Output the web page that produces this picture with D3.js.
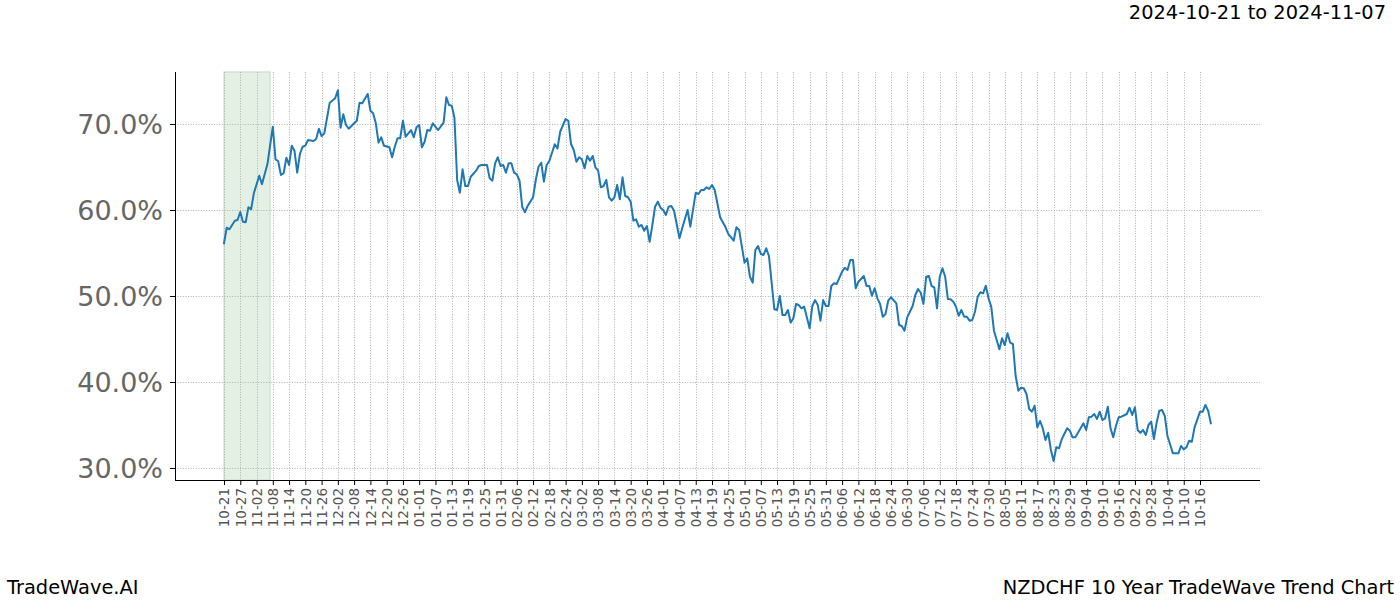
<!DOCTYPE html>
<html><head><meta charset="utf-8">
<script src="https://cdn.jsdelivr.net/npm/d3@7"></script>
<style>body{margin:0;background:#fff}svg{display:block}text{font-family:"DejaVu Sans",sans-serif}</style>
</head><body><svg id="c" width="1400" height="600"></svg>
<script>
const dates=["2024-10-21","2024-10-22","2024-10-23","2024-10-25","2024-10-26","2024-10-27","2024-10-28","2024-10-29","2024-10-30","2024-10-31",
"2024-11-01","2024-11-03","2024-11-04","2024-11-06","2024-11-08","2024-11-09","2024-11-10","2024-11-11","2024-11-12","2024-11-13",
"2024-11-14","2024-11-15","2024-11-16","2024-11-17","2024-11-18","2024-11-19","2024-11-20","2024-11-21","2024-11-23","2024-11-24",
"2024-11-25","2024-11-26","2024-11-27","2024-11-29","2024-12-01","2024-12-02","2024-12-03","2024-12-04","2024-12-05","2024-12-06",
"2024-12-08","2024-12-09","2024-12-10","2024-12-11","2024-12-13","2024-12-14","2024-12-15","2024-12-16","2024-12-17","2024-12-18",
"2024-12-19","2024-12-21","2024-12-22","2024-12-23","2024-12-24","2024-12-25","2024-12-26","2024-12-27","2024-12-29","2024-12-30",
"2024-12-31","2025-01-01","2025-01-02","2025-01-03","2025-01-04","2025-01-05","2025-01-06","2025-01-08","2025-01-10","2025-01-11",
"2025-01-12","2025-01-13","2025-01-14","2025-01-15","2025-01-16","2025-01-17","2025-01-18","2025-01-19","2025-01-20","2025-01-22",
"2025-01-23","2025-01-24","2025-01-26","2025-01-27","2025-01-28","2025-01-29","2025-01-30","2025-01-31","2025-02-01","2025-02-02",
"2025-02-03","2025-02-04","2025-02-05","2025-02-06","2025-02-07","2025-02-08","2025-02-09","2025-02-10","2025-02-12","2025-02-13",
"2025-02-14","2025-02-15","2025-02-16","2025-02-17","2025-02-18","2025-02-20","2025-02-21","2025-02-22","2025-02-24","2025-02-25",
"2025-02-26","2025-02-27","2025-02-28","2025-03-01","2025-03-02","2025-03-03","2025-03-04","2025-03-05","2025-03-06","2025-03-07",
"2025-03-08","2025-03-09","2025-03-10","2025-03-11","2025-03-12","2025-03-13","2025-03-14","2025-03-15","2025-03-16","2025-03-17",
"2025-03-18","2025-03-19","2025-03-20","2025-03-21","2025-03-22","2025-03-23","2025-03-24","2025-03-25","2025-03-26","2025-03-27",
"2025-03-28","2025-03-29","2025-03-30","2025-03-31","2025-04-01","2025-04-02","2025-04-03","2025-04-04","2025-04-05","2025-04-07",
"2025-04-08","2025-04-10","2025-04-11","2025-04-13","2025-04-14","2025-04-15","2025-04-16","2025-04-17","2025-04-18","2025-04-19",
"2025-04-20","2025-04-22","2025-04-24","2025-04-25","2025-04-27","2025-04-28","2025-04-29","2025-05-01","2025-05-02","2025-05-03",
"2025-05-04","2025-05-05","2025-05-06","2025-05-07","2025-05-08","2025-05-09","2025-05-10","2025-05-12","2025-05-13","2025-05-14",
"2025-05-15","2025-05-16","2025-05-17","2025-05-18","2025-05-19","2025-05-20","2025-05-21","2025-05-22","2025-05-23","2025-05-25",
"2025-05-26","2025-05-27","2025-05-28","2025-05-29","2025-05-30","2025-05-31","2025-06-01","2025-06-02","2025-06-03","2025-06-04",
"2025-06-06","2025-06-07","2025-06-08","2025-06-09","2025-06-10","2025-06-11","2025-06-12","2025-06-14","2025-06-15","2025-06-16",
"2025-06-17","2025-06-18","2025-06-19","2025-06-20","2025-06-21","2025-06-22","2025-06-23","2025-06-24","2025-06-26","2025-06-27",
"2025-06-28","2025-06-29","2025-06-30","2025-07-02","2025-07-03","2025-07-04","2025-07-05","2025-07-06","2025-07-07","2025-07-08",
"2025-07-09","2025-07-10","2025-07-11","2025-07-12","2025-07-13","2025-07-14","2025-07-15","2025-07-16","2025-07-17","2025-07-18",
"2025-07-19","2025-07-20","2025-07-21","2025-07-22","2025-07-23","2025-07-24","2025-07-25","2025-07-26","2025-07-27","2025-07-28",
"2025-07-29","2025-07-30","2025-07-31","2025-08-01","2025-08-03","2025-08-04","2025-08-05","2025-08-06","2025-08-07","2025-08-08",
"2025-08-09","2025-08-10","2025-08-11","2025-08-12","2025-08-13","2025-08-14","2025-08-15","2025-08-16","2025-08-17","2025-08-18",
"2025-08-19","2025-08-20","2025-08-21","2025-08-22","2025-08-23","2025-08-24","2025-08-25","2025-08-26","2025-08-28","2025-08-29",
"2025-08-30","2025-08-31","2025-09-01","2025-09-03","2025-09-04","2025-09-05","2025-09-06","2025-09-07","2025-09-08","2025-09-09",
"2025-09-10","2025-09-11","2025-09-12","2025-09-13","2025-09-14","2025-09-15","2025-09-16","2025-09-17","2025-09-19","2025-09-20",
"2025-09-21","2025-09-22","2025-09-23","2025-09-24","2025-09-25","2025-09-26","2025-09-27","2025-09-28","2025-09-29","2025-09-30",
"2025-10-01","2025-10-02","2025-10-03","2025-10-04","2025-10-06","2025-10-08","2025-10-09","2025-10-10","2025-10-11","2025-10-12",
"2025-10-13","2025-10-14","2025-10-16","2025-10-17","2025-10-18","2025-10-19","2025-10-20"];
const values=[56.13,57.94,57.76,58.76,58.84,59.77,58.64,58.57,60.31,60.08,
61.94,63.99,62.99,65.31,69.69,65.90,65.66,64.07,64.27,66.08,
65.23,67.48,66.90,64.34,66.51,67.36,67.48,68.14,68.02,68.26,
69.45,68.60,68.92,72.48,72.99,73.92,69.57,71.13,69.88,69.45,
70.08,70.38,72.48,72.41,73.49,71.55,71.24,70.08,67.83,68.45,
67.48,67.29,66.13,67.36,68.34,68.34,70.38,68.52,69.30,68.45,
69.62,69.88,67.29,67.94,69.30,69.22,70.08,69.30,70.15,73.10,
72.21,72.13,70.73,63.49,62.01,64.73,62.79,62.79,63.87,64.57,
65.12,65.23,65.23,63.69,63.41,65.43,66.13,65.12,65.23,64.34,
65.43,65.43,64.34,64.15,63.41,60.38,59.73,60.47,61.48,63.49,
65.03,65.50,63.29,65.23,65.70,67.64,67.17,69.10,70.58,70.38,
67.67,66.98,65.62,66.13,65.90,64.85,66.28,65.73,66.28,64.97,
64.57,62.64,62.79,63.49,61.48,61.08,61.48,62.91,61.24,63.80,
61.63,61.48,60.97,58.76,58.92,58.06,58.26,57.59,58.14,56.31,
58.26,60.38,60.97,60.27,60.00,59.42,60.38,60.47,59.92,56.71,
57.87,60.00,58.06,62.01,61.86,62.33,62.33,62.64,62.44,62.91,
62.33,59.15,57.99,57.21,56.43,57.99,57.67,53.87,54.38,52.24,
51.55,55.35,55.81,54.88,54.77,55.55,54.65,48.45,48.37,50.00,
47.79,47.79,48.37,46.90,47.41,49.07,48.95,48.57,48.76,46.24,
48.84,49.53,48.95,47.13,49.53,48.84,48.84,51.16,51.48,51.40,
52.83,53.29,53.02,54.19,54.19,50.90,51.66,52.33,51.16,51.16,
50.03,50.90,49.73,49.07,47.59,47.91,49.45,49.85,49.15,46.63,
46.51,45.97,47.52,48.84,50.12,50.81,50.38,49.07,52.24,52.33,
51.16,51.01,48.57,52.24,53.22,52.24,49.65,49.62,49.34,48.76,
47.70,48.37,47.59,47.59,47.13,47.21,48.17,49.92,50.43,50.31,
51.20,49.73,48.76,45.97,43.80,45.08,44.30,45.66,44.57,44.42,
40.70,38.99,39.34,39.27,38.60,36.86,36.55,37.24,34.73,35.47,
34.62,33.26,34.10,32.09,30.81,32.41,32.29,33.34,34.62,34.34,
33.57,33.57,34.10,35.20,34.42,35.90,35.97,36.28,35.70,36.55,
35.58,35.78,37.13,34.62,33.57,34.88,35.90,35.97,36.28,37.01,
36.16,37.06,34.42,34.10,34.42,33.84,35.00,35.38,33.37,35.27,
36.66,36.74,36.05,33.72,31.71,31.71,32.56,32.17,32.41,33.17,
33.06,34.73,36.55,36.55,37.33,36.66,35.20];
const tickDates=["2024-10-21","2024-10-27","2024-11-02","2024-11-08","2024-11-14","2024-11-20","2024-11-26","2024-12-02","2024-12-08","2024-12-14",
"2024-12-20","2024-12-26","2025-01-01","2025-01-07","2025-01-13","2025-01-19","2025-01-25","2025-01-31","2025-02-06","2025-02-12",
"2025-02-18","2025-02-24","2025-03-02","2025-03-08","2025-03-14","2025-03-20","2025-03-26","2025-04-01","2025-04-07","2025-04-13",
"2025-04-19","2025-04-25","2025-05-01","2025-05-07","2025-05-13","2025-05-19","2025-05-25","2025-05-31","2025-06-06","2025-06-12",
"2025-06-18","2025-06-24","2025-06-30","2025-07-06","2025-07-12","2025-07-18","2025-07-24","2025-07-30","2025-08-05","2025-08-11",
"2025-08-17","2025-08-23","2025-08-29","2025-09-04","2025-09-10","2025-09-16","2025-09-22","2025-09-28","2025-10-04","2025-10-10","2025-10-16"];
const yTicks=[30,40,50,60,70];
const highlight=["2024-10-21","2024-11-07"];
const titleText="2024-10-21 to 2024-11-07";
const leftText="TradeWave.AI";
const rightText="NZDCHF 10 Year TradeWave Trend Chart";

const parse=d3.utcParse("%Y-%m-%d");
const data=dates.map((d,i)=>({date:parse(d),v:values[i]}));
const L=175,R=1260,T=72,B=480;
const x=d3.scaleUtc().domain([parse("2024-10-21"),parse("2025-10-16")]).range([224,1200]);
const y=d3.scaleLinear().domain([30,70]).range([468,124]);
const svg=d3.select("#c");

// highlight span
svg.append("rect").attr("x",x(parse(highlight[0]))).attr("y",T)
  .attr("width",x(parse(highlight[1]))-x(parse(highlight[0]))).attr("height",B-T)
  .attr("fill","rgb(229,240,229)").attr("stroke","rgb(205,220,205)").attr("stroke-width",1.2);

// grid
const tk=tickDates.map(parse);
svg.append("g").selectAll("line").data(tk).join("line")
  .attr("x1",d=>Math.round(x(d))+0.5).attr("x2",d=>Math.round(x(d))+0.5).attr("y1",T).attr("y2",B)
  .attr("stroke","#a8a8a8").attr("stroke-width",0.9).attr("stroke-dasharray","1,1.6");
svg.append("g").selectAll("line").data(yTicks).join("line")
  .attr("x1",L).attr("x2",R).attr("y1",d=>Math.round(y(d))+0.5).attr("y2",d=>Math.round(y(d))+0.5)
  .attr("stroke","#a8a8a8").attr("stroke-width",0.9).attr("stroke-dasharray","1,1.6");

// line
svg.append("path").datum(data).attr("fill","none").attr("stroke","#1f77b4").attr("stroke-width",2)
  .attr("stroke-linejoin","round").attr("stroke-linecap","square")
  .attr("d",d3.line().x(d=>x(d.date)).y(d=>y(d.v)));

// axes
const xa=svg.append("g").attr("transform",`translate(0,${B})`)
  .call(d3.axisBottom(x).tickValues(tk).tickFormat(d3.utcFormat("%m-%d")).tickSize(5).tickSizeOuter(0));
xa.select(".domain").remove();
xa.selectAll("line").attr("stroke","#000");
xa.selectAll("text").attr("transform","rotate(-90)").attr("x",-8).attr("y",0).attr("dy","0.35em")
  .style("text-anchor","end").attr("fill","#555").style("font-size","13.5px");

const ya=svg.append("g").attr("transform",`translate(${L},0)`)
  .call(d3.axisLeft(y).tickValues(yTicks).tickFormat(d=>d.toFixed(1)+"%").tickSize(5).tickPadding(7));
ya.select(".domain").remove();
ya.selectAll("line").attr("stroke","#000");
ya.selectAll("text").attr("fill","#666").style("font-size","27px").attr("dy","0.35em");

// spines
svg.append("line").attr("x1",L+0.5).attr("x2",L+0.5).attr("y1",T).attr("y2",B).attr("stroke","#000");
svg.append("line").attr("x1",L).attr("x2",R).attr("y1",B+0.5).attr("y2",B+0.5).attr("stroke","#000");

// texts
svg.append("text").attr("x",1386).attr("y",19).attr("text-anchor","end").style("font-size","19.4px").attr("fill","#000").text(titleText);
svg.append("text").attr("x",7).attr("y",594).style("font-size","19.4px").attr("fill","#000").text(leftText);
svg.append("text").attr("x",1394).attr("y",594).attr("text-anchor","end").style("font-size","19.4px").attr("fill","#000").text(rightText);
</script></body></html>
